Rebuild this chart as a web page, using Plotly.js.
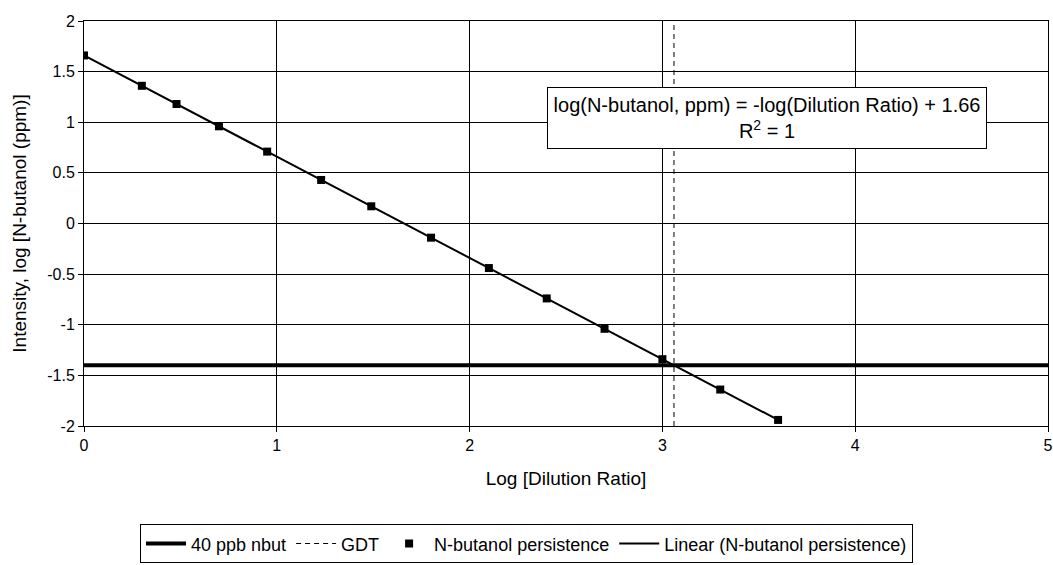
<!DOCTYPE html>
<html>
<head>
<meta charset="utf-8">
<script src="https://cdn.plot.ly/plotly-3.0.1.min.js"></script>
<style>html,body{margin:0;padding:0;background:#fff;}#chart{width:1053px;height:565px;}</style>
</head>
<body>
<div id="chart"></div>
<script>
// Data
var logDilution = [0, 0.30, 0.48, 0.70, 0.95, 1.23, 1.49, 1.80, 2.10, 2.40, 2.70, 3.00, 3.30, 3.60];
var logConc = [1.66, 1.36, 1.18, 0.96, 0.71, 0.43, 0.17, -0.14, -0.44, -0.74, -1.04, -1.34, -1.64, -1.94];
var fitX = [0, 3.60];
var fitY = [1.66, -1.94];
var thresholdX = [0, 5];
var thresholdY = [-1.40, -1.40];
var gdtX = [3.06, 3.06];
var gdtY = [-2, 2];
var xTicks = [0, 1, 2, 3, 4, 5];
var yTicks = [-2, -1.5, -1, -0.5, 0, 0.5, 1, 1.5, 2];
var eqText = "log(N-butanol, ppm) = -log(Dilution Ratio) + 1.66<br>R<sup>2</sup> = 1";

var font = "Liberation Sans, Arial, sans-serif";
var tThresh = {x: thresholdX, y: thresholdY, mode: "lines", name: "40 ppb nbut", legendrank: 1, line: {color: "#000", width: 4}};
var tGdt = {x: gdtX, y: gdtY, mode: "lines", name: "GDT", legendrank: 2, line: {color: "#000", width: 1, dash: "5px,4px"}};
var tPts = {x: logDilution, y: logConc, mode: "markers", name: "N-butanol persistence", legendrank: 3, marker: {symbol: "square", color: "#000", size: 8}};
var tFit = {x: fitX, y: fitY, mode: "lines", name: "Linear (N-butanol persistence)", legendrank: 4, line: {color: "#000", width: 2}};

var layout = {
  width: 1053, height: 565,
  margin: {l: 84, r: 5, t: 21, b: 139},
  paper_bgcolor: "#fff", plot_bgcolor: "#fff",
  font: {family: font, size: 16, color: "#000"},
  showlegend: true,
  legend: {
    orientation: "h", xref: "container", yref: "container",
    x: 0.5, xanchor: "center", y: 0.003, yanchor: "bottom",
    bordercolor: "#000", borderwidth: 1, font: {family: font, size: 18, color: "#000"},
    traceorder: "normal", itemwidth: 40, tracegroupgap: 0
  },
  xaxis: {
    range: [0, 5], tickvals: xTicks, ticktext: xTicks.map(String),
    showgrid: true, gridcolor: "#000", gridwidth: 1,
    showline: true, linecolor: "#000", mirror: true, zeroline: false,
    ticks: "outside", ticklen: 5, tickcolor: "#000",
    tickfont: {family: font, size: 16},
    title: {text: "Log [Dilution Ratio]", font: {family: font, size: 19}, standoff: 18},
    fixedrange: true
  },
  yaxis: {
    range: [-2, 2], tickvals: yTicks, ticktext: yTicks.map(String),
    showgrid: true, gridcolor: "#000", gridwidth: 1,
    showline: true, linecolor: "#000", mirror: true, zeroline: false,
    ticks: "outside", ticklen: 5, tickcolor: "#000",
    tickfont: {family: font, size: 16},
    title: {text: "Intensity, log [N-butanol (ppm)]", font: {family: font, size: 19}, standoff: 15},
    fixedrange: true
  },
  annotations: [{
    x: 3.545, y: 1.04, xref: "x", yref: "y", text: eqText, showarrow: false,
    font: {family: font, size: 20, color: "#000"}, align: "center",
    bgcolor: "#fff", bordercolor: "#000", borderwidth: 1,
    width: 436, height: 58, valign: "middle"
  }]
};
Plotly.newPlot("chart", [tThresh, tGdt, tFit, tPts], layout, {displayModeBar: false, staticPlot: true});
</script>
</body>
</html>
